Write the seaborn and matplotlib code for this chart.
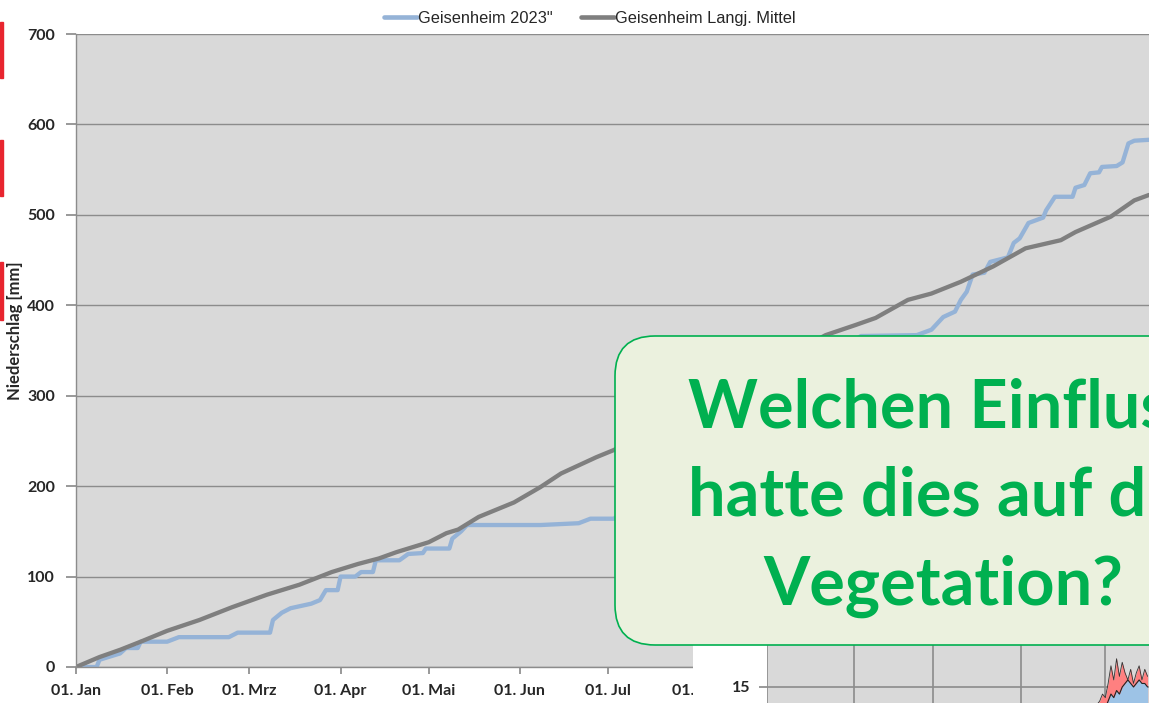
import numpy as np
import pandas as pd
import matplotlib.pyplot as plt
import seaborn as sns
from matplotlib.patches import FancyBboxPatch, Rectangle

# cumulative precipitation (day of year, mm)
days_2023 = [0, 7, 8, 15, 17, 21, 22, 31, 35, 52, 55, 66, 67, 70, 73, 80, 83, 85, 89, 90,
             95, 97, 101, 102, 110, 113, 118, 119, 127, 128, 131, 133, 158, 171, 175, 183,
             267, 286, 291, 295, 299, 301, 303, 305, 309, 311, 317, 319, 321, 324, 329, 330,
             333, 339, 340, 343, 345, 348, 349, 354, 356, 358, 360, 365]
mm_2023 = [0, 0, 8, 15, 21, 21, 28, 28, 33, 33, 38, 38, 52, 60, 65, 70, 74, 85, 85, 100,
           100, 105, 105, 118, 118, 125, 126, 131, 131, 142, 150, 157, 157, 159, 164, 164,
           366, 367, 373, 387, 393, 406, 415, 434, 436, 448, 453, 469, 474, 491, 497, 505,
           520, 520, 530, 533, 546, 547, 553, 554, 558, 579, 582, 583]

days_mean = [0, 8, 15, 22, 31, 42, 53, 65, 76, 87, 96, 103, 109, 115, 120, 126, 130, 137,
             149, 158, 165, 171, 177, 183, 255, 265, 272, 283, 291, 301, 312, 323, 335, 340,
             352, 360, 365]
mm_mean = [0, 11, 19, 28, 40, 52, 66, 80, 91, 105, 114, 120, 127, 133, 138, 148, 152, 166,
           182, 199, 214, 223, 232, 240, 367, 378, 386, 406, 413, 426, 443, 463, 472, 481,
           498, 516, 522]

month_days = [0, 31, 59, 90, 120, 151, 181, 212, 243, 273, 304, 334]
month_labels = ['01. Jan', '01. Feb', '01. Mrz', '01. Apr', '01. Mai', '01. Jun',
                '01. Jul', '01. Aug', '01. Sep', '01. Okt', '01. Nov', '01. Dez']

# second chart peeking in at the bottom right (temperatures, spring)
spike_days = [112, 114, 116, 118, 119, 120, 121, 122, 123, 124, 125, 126, 127, 128, 129,
              130, 131, 132, 133, 134, 135]
spike_red = [9, 10, 9, 11, 13, 12, 16, 21, 17, 23, 18, 22, 19, 17, 20, 16, 19, 21, 17, 20, 18]
spike_blue = [6, 7, 6, 8, 9, 9, 11, 13, 12, 14, 13, 15, 16, 17, 16, 15, 16, 17, 16, 16, 15]

box_lines = ['Welchen Einfluss', 'hatte dies auf die', 'Vegetation?']

sns.set_theme(style="white")
plt.rcParams['font.family'] = ['Lato', 'DejaVu Sans']

df = pd.concat([
    pd.DataFrame({'tag': days_2023, 'mm': mm_2023, 'serie': 'Geisenheim 2023"'}),
    pd.DataFrame({'tag': days_mean, 'mm': mm_mean, 'serie': 'Geisenheim Langj. Mittel'}),
])

fig = plt.figure(figsize=(11.49, 7.03), dpi=100)
ax = fig.add_axes([76 / 1149, 36 / 703, 1073 / 1149, 633 / 703])
ax.set_facecolor('#D9D9D9')

sns.lineplot(data=df, x='tag', y='mm', hue='serie',
             palette=['#95B3D7', '#7F7F7F'], linewidth=3.1, ax=ax)

ax.set_xlim(0, 365)
ax.set_ylim(0, 700)
ax.set_yticks(range(0, 701, 100))
ax.set_xticks(month_days)
ax.set_xticklabels(month_labels)
ax.grid(axis='y', color='#8C8C8C', linewidth=1)
ax.set_axisbelow(True)
for s in ['top', 'right']:
    ax.spines[s].set_visible(False)
for s in ['left', 'bottom']:
    ax.spines[s].set_color('#8C8C8C')
    ax.spines[s].set_linewidth(1)
ax.tick_params(axis='y', left=True, direction='out', length=7, color='#8C8C8C', pad=8)
ax.tick_params(axis='x', bottom=True, direction='out', length=5, color='#8C8C8C', pad=7)
for lab in ax.get_xticklabels() + ax.get_yticklabels():
    lab.set_fontweight('bold')
    lab.set_fontsize(11.5)
ax.set_xlabel('')
ax.set_ylabel('Niederschlag [mm]', fontsize=12, fontweight='bold')
ax.yaxis.set_label_coords(-0.049, 0.532)

handles, labels = ax.get_legend_handles_labels()
ax.get_legend().remove()
leg = fig.legend(handles, labels, loc='upper center', bbox_to_anchor=(590 / 1149, 1.006),
                 ncol=2, frameon=False, handlelength=2.0, handletextpad=0.1,
                 columnspacing=1.7, prop={'family': 'Liberation Sans', 'size': 11.8})
for h in leg.get_lines():
    h.set_linewidth(3.3)

# white panel of the second chart in the lower right
ax_w = fig.add_axes([693 / 1149, 0, 456 / 1149, 58 / 703])
ax_w.set_facecolor('white')
ax_w.set_xticks([])
ax_w.set_yticks([])
for s in ax_w.spines.values():
    s.set_visible(False)

ax2 = fig.add_axes([767 / 1149, 1 - 740 / 703, 382 / 1149, 106 / 703])
ax2.set_facecolor('#D9D9D9')
ax2.fill_between(spike_days, 0, spike_red, color='#FF8080', linewidth=0)
ax2.fill_between(spike_days, 0, spike_blue, color='#9DC3E6', linewidth=0)
ax2.plot(spike_days, spike_red, color='#333333', linewidth=0.6)
ax2.plot(spike_days, spike_blue, color='#222222', linewidth=0.8)
ax2.set_xlim(0, 135.5)
ax2.set_ylim(0, 30)
ax2.set_xticks([0, 31, 59, 90, 120])
ax2.set_xticklabels([])
ax2.set_yticks([15])
ax2.grid(True, color='#8C8C8C', linewidth=1.2)
ax2.set_axisbelow(True)
for s in ax2.spines.values():
    s.set_visible(False)
ax2.tick_params(axis='y', left=True, direction='out', length=6, color='#8C8C8C', pad=6)
for lab in ax2.get_yticklabels():
    lab.set_fontweight('bold')
    lab.set_fontsize(11.5)

# red markers on the left edge
for y0, h in [(6.25, 0.56), (5.07, 0.56), (3.83, 0.58)]:
    fig.add_artist(Rectangle((0, y0), 0.03, h, transform=fig.dpi_scale_trans,
                             color='#E8252F', zorder=5))

# rounded callout box
box = FancyBboxPatch((6.15, 0.58), 8.0, 3.09, boxstyle='round,pad=0,rounding_size=0.4',
                     transform=fig.dpi_scale_trans, facecolor='#EBF1DE',
                     edgecolor='#00B050', linewidth=1.2, zorder=6)
fig.add_artist(box)
for line, yb in zip(box_lines, [2.76, 1.88, 0.98]):
    fig.text(9.43, yb, line, transform=fig.dpi_scale_trans, ha='center', va='baseline',
             color='#00B050', fontsize=48, fontweight='bold', zorder=7)

plt.savefig('out.png', dpi=100)
